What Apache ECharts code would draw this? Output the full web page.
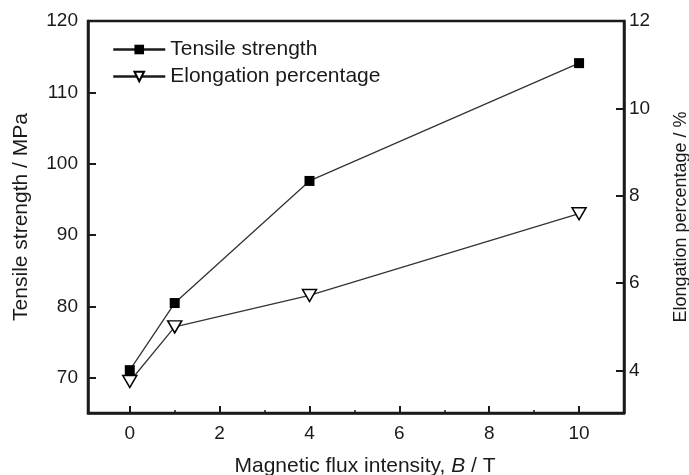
<!DOCTYPE html>
<html>
<head>
<meta charset="utf-8">
<script src="https://cdn.jsdelivr.net/npm/echarts@6/dist/echarts.min.js"></script>
<style>html,body{margin:0;padding:0;background:#fff;}#c{width:689px;height:475px;}</style>
</head>
<body>
<div id="c"></div>
<script>
const xValues = [0, 1, 4, 10];
const tensileStrength = [71.1, 80.5, 97.6, 114.1];
const elongation = [3.75, 5.0, 5.72, 7.59];
const xTicks = [0, 2, 4, 6, 8, 10];
const xMinorTicks = [1, 3, 5, 7, 9];
const leftTicks = [70, 80, 90, 100, 110, 120];
const rightTicks = [4, 6, 8, 10, 12];

const font = 'Liberation Sans, Arial, sans-serif';
const ink = '#1a1a1a';
const chart = echarts.init(document.getElementById('c'));
chart.setOption({
  animation: false,
  backgroundColor: '#fff',
  grid: { left: 88, right: 65, top: 21, bottom: 62, show: true, borderColor: ink, borderWidth: 2.5, containLabel: false, outerBoundsMode: 'none' },
  legend: {
    left: 107, top: 34, orient: 'vertical', itemWidth: 52, itemHeight: 12, itemGap: 6,
    textStyle: { fontFamily: font, fontSize: 21, color: ink },
    lineStyle: { width: 2.5, color: ink },
    data: ['Tensile strength', 'Elongation percentage']
  },
  xAxis: [{
    type: 'value', min: -0.93, max: 11,
    name: '{a|Magnetic flux intensity, }{b|B}{a| / T}',
    nameLocation: 'middle', nameGap: 43,
    nameTextStyle: { padding: [0, 0, 0, 18], rich: { a: { fontFamily: font, fontSize: 21, color: ink }, b: { fontFamily: font, fontSize: 21, color: ink, fontStyle: 'italic' } } },
    axisLine: { show: true, onZero: false, lineStyle: { color: ink, width: 2.5 } },
    axisTick: { show: true, inside: true, length: 7, lineStyle: { color: ink, width: 2 }, customValues: xTicks },
    axisLabel: { customValues: xTicks, fontFamily: font, fontSize: 19, color: ink, margin: 11 },
    splitLine: { show: false }
  }, {
    type: 'value', min: -0.93, max: 11, position: 'bottom',
    axisLine: { show: false, onZero: false },
    axisTick: { show: true, inside: true, length: 3, lineStyle: { color: ink, width: 1.5 }, customValues: xMinorTicks },
    axisLabel: { show: false, customValues: xMinorTicks },
    splitLine: { show: false }
  }],
  yAxis: [{
    type: 'value', min: 65.1, max: 120, position: 'left',
    name: 'Tensile strength / MPa', nameLocation: 'middle', nameGap: 56, nameRotate: 90,
    nameTextStyle: { fontFamily: font, fontSize: 21, color: ink },
    axisLine: { show: true, onZero: false, lineStyle: { color: ink, width: 2.5 } },
    axisTick: { show: true, inside: true, length: 8, lineStyle: { color: ink, width: 2 }, customValues: leftTicks },
    axisLabel: { customValues: leftTicks, fontFamily: font, fontSize: 19, color: ink, margin: 10 },
    splitLine: { show: false }
  }, {
    type: 'value', min: 3.03, max: 12, position: 'right',
    name: 'Elongation percentage / %', nameLocation: 'middle', nameGap: 48, nameRotate: 90,
    nameTextStyle: { fontFamily: font, fontSize: 18, color: ink },
    axisLine: { show: true, onZero: false, lineStyle: { color: ink, width: 2.5 } },
    axisTick: { show: true, inside: true, length: 8, lineStyle: { color: ink, width: 2 }, customValues: rightTicks },
    axisLabel: { customValues: rightTicks, fontFamily: font, fontSize: 19, color: ink, margin: 5 },
    splitLine: { show: false }
  }],
  series: [{
    name: 'Tensile strength', type: 'line', xAxisIndex: 0, yAxisIndex: 0,
    data: xValues.map((x, i) => [x, tensileStrength[i]]),
    symbol: 'rect', symbolSize: 10,
    itemStyle: { color: '#000' },
    lineStyle: { color: '#333', width: 1.3 }
  }, {
    name: 'Elongation percentage', type: 'line', xAxisIndex: 0, yAxisIndex: 1,
    data: xValues.map((x, i) => [x, elongation[i]]),
    symbol: 'triangle', symbolRotate: 180, symbolSize: [14, 12],
    itemStyle: { color: '#fff', borderColor: '#000', borderWidth: 1.5 },
    lineStyle: { color: '#333', width: 1.3 }
  }]
});
</script>
</body>
</html>
